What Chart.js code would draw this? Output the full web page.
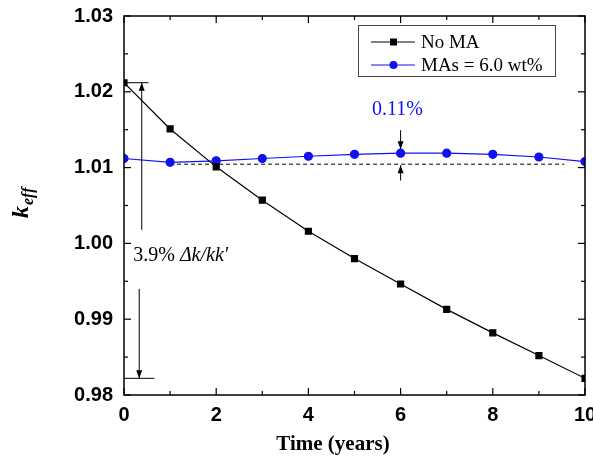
<!DOCTYPE html>
<html>
<head>
<meta charset="utf-8">
<script src="https://cdn.jsdelivr.net/npm/chart.js@4.4.1/dist/chart.umd.min.js"></script>
<style>
  html, body { margin: 0; padding: 0; background: #fff; }
  canvas { display: block; }
</style>
</head>
<body>
<canvas id="c" width="593" height="459"></canvas>
<script>
// k_eff over ten years of burnup, with and without minor actinides
const years = [0, 1, 2, 3, 4, 5, 6, 7, 8, 9, 10];
const keffNoMA = [1.0212, 1.0151, 1.0101, 1.0057, 1.0016, 0.9980, 0.99465, 0.9913, 0.9882, 0.9852, 0.9822];
const keffMA6  = [1.0112, 1.0107, 1.0109, 1.0112, 1.0115, 1.01175, 1.0119, 1.0119, 1.01175, 1.0114, 1.0108];
const xTickValues = [0, 2, 4, 6, 8, 10];
const yTickValues = [0.98, 0.99, 1.00, 1.01, 1.02, 1.03];
const seriesNames = ['No MA', 'MAs = 6.0 wt%'];

// reference level of the MA case and the swing annotations
const refLevel = 1.01045;
const refSpan = [1, 9.55];
const swingText = '3.9% ';
const swingUnit = "\u0394k/kk'";
const gainText = '0.11%';
const gainYear = 6;

const BLUE = '#1010f0';
const SERIF = '"Liberation Serif", "Times New Roman", serif';
const SANS = '"Liberation Sans", Arial, sans-serif';

const toXY = (xs, ys) => xs.map((v, i) => ({ x: v, y: ys[i] }));

const decor = {
  id: 'decor',
  afterDatasetsDraw(chart) {
    const { ctx, chartArea: a, scales: { x, y } } = chart;
    const X = v => x.getPixelForValue(v);
    const Y = v => y.getPixelForValue(v);
    const seg = (x1, y1, x2, y2) => { ctx.beginPath(); ctx.moveTo(x1, y1); ctx.lineTo(x2, y2); ctx.stroke(); };
    const arrow = (x1, y1, x2, y2) => {
      seg(x1, y1, x2, y2);
      const ang = Math.atan2(y2 - y1, x2 - x1), L = 8, W = 3;
      ctx.beginPath();
      ctx.moveTo(x2, y2);
      ctx.lineTo(x2 - L * Math.cos(ang) + W * Math.sin(ang), y2 - L * Math.sin(ang) - W * Math.cos(ang));
      ctx.lineTo(x2 - L * Math.cos(ang) - W * Math.sin(ang), y2 - L * Math.sin(ang) + W * Math.cos(ang));
      ctx.closePath();
      ctx.fill();
    };
    ctx.save();
    ctx.strokeStyle = '#000';
    ctx.fillStyle = '#000';

    // frame
    ctx.lineWidth = 1.5;
    ctx.strokeRect(a.left, a.top, a.right - a.left, a.bottom - a.top);

    // inward ticks on all four sides
    ctx.lineWidth = 1.2;
    for (let v = 0; v <= 10; v++) {
      const px = X(v), L = v % 2 === 0 ? 7 : 4;
      seg(px, a.bottom, px, a.bottom - L);
      seg(px, a.top, px, a.top + L);
    }
    for (let i = 0; i <= 10; i++) {
      const py = Y(0.98 + i * 0.005), L = i % 2 === 0 ? 7 : 4;
      seg(a.left, py, a.left + L, py);
      seg(a.right, py, a.right - L, py);
    }

    // reactivity swing of the no-MA case
    ctx.lineWidth = 1;
    arrow(X(0.385), Y(1.0018), X(0.385), Y(keffNoMA[0]));
    arrow(X(0.33), Y(0.9940), X(0.33), Y(keffNoMA[keffNoMA.length - 1]));
    ctx.textBaseline = 'alphabetic';
    ctx.textAlign = 'left';
    ctx.font = '20px ' + SERIF;
    const tx = X(0.2), ty = Y(0.99763);
    ctx.fillText(swingText, tx, ty);
    const w1 = ctx.measureText(swingText).width;
    ctx.font = 'italic 20px ' + SERIF;
    ctx.fillText(swingUnit, tx + w1, ty);

    // swing of the MA case
    const peak = Math.max(...keffMA6);
    arrow(X(gainYear), Y(1.01494), X(gainYear), Y(peak) - 4);
    arrow(X(gainYear), Y(1.0083), X(gainYear), Y(refLevel) + 1);
    ctx.fillStyle = BLUE;
    ctx.font = '20px ' + SERIF;
    ctx.textAlign = 'center';
    ctx.fillText(gainText, X(5.93), Y(1.01693));

    // legend
    ctx.fillStyle = '#000';
    ctx.strokeStyle = '#444';
    ctx.lineWidth = 1;
    ctx.strokeRect(358.5, 25.5, 197, 51);
    const rows = [
      { y: 42, color: '#000', shape: 'rect', name: seriesNames[0], base: 48 },
      { y: 65, color: BLUE, shape: 'circle', name: seriesNames[1], base: 71 }
    ];
    ctx.textAlign = 'left';
    ctx.font = '19px ' + SERIF;
    rows.forEach(r => {
      ctx.strokeStyle = r.color;
      ctx.fillStyle = r.color;
      ctx.lineWidth = 1.2;
      seg(371, r.y, 415, r.y);
      if (r.shape === 'rect') ctx.fillRect(390, r.y - 3.5, 7, 7);
      else { ctx.beginPath(); ctx.arc(393.5, r.y, 4, 0, Math.PI * 2); ctx.fill(); }
      ctx.fillStyle = '#000';
      ctx.fillText(r.name, 421, r.base);
    });

    // axis titles
    ctx.fillStyle = '#000';
    ctx.font = 'bold 21px ' + SERIF;
    ctx.textAlign = 'center';
    ctx.fillText('Time (years)', 333, 450);

    ctx.save();
    ctx.translate(28, 218);
    ctx.rotate(-Math.PI / 2);
    ctx.textAlign = 'left';
    ctx.font = 'bold italic 24px ' + SERIF;
    ctx.fillText('k', 0, 0);
    const kw = ctx.measureText('k').width;
    ctx.font = 'bold italic 16px ' + SERIF;
    ctx.fillText('eff', kw + 1, 5);
    ctx.restore();

    ctx.restore();
  }
};

new Chart(document.getElementById('c'), {
  type: 'line',
  data: {
    datasets: [
      {
        label: seriesNames[0],
        data: toXY(years, keffNoMA),
        borderColor: '#000', backgroundColor: '#000',
        borderWidth: 1.2, pointStyle: 'rect', pointRadius: 4.2, pointHoverRadius: 4.2,
        clip: 0
      },
      {
        label: seriesNames[1],
        data: toXY(years, keffMA6),
        borderColor: BLUE, backgroundColor: BLUE,
        borderWidth: 1.2, pointStyle: 'circle', pointRadius: 4, pointHoverRadius: 4,
        clip: 0
      },
      {
        label: 'ref',
        data: toXY(refSpan, [refLevel, refLevel]),
        borderColor: '#000', borderWidth: 1, borderDash: [4, 3], pointRadius: 0
      },
      {
        label: 'top',
        data: toXY([0, 0.53], [keffNoMA[0], keffNoMA[0]]),
        borderColor: '#000', borderWidth: 1, pointRadius: 0
      },
      {
        label: 'bottom',
        data: toXY([0, 0.66], [keffNoMA[10], keffNoMA[10]]),
        borderColor: '#000', borderWidth: 1, pointRadius: 0
      }
    ]
  },
  options: {
    responsive: false,
    animation: false,
    events: [],
    layout: { padding: { left: 0, right: 8, top: 16, bottom: 0 } },
    plugins: { legend: { display: false }, tooltip: { enabled: false } },
    scales: {
      x: {
        type: 'linear', min: 0, max: 10,
        grid: { display: false, drawTicks: false },
        border: { display: false },
        afterBuildTicks: s => { s.ticks = xTickValues.map(v => ({ value: v })); },
        ticks: {
          padding: 8, color: '#000', maxRotation: 0,
          font: { family: SANS, size: 20, weight: 'bold' },
          callback: v => String(v)
        },
        afterFit: s => { s.height = 64; s.paddingLeft = 0; s.paddingRight = 0; }
      },
      y: {
        type: 'linear', min: 0.98, max: 1.03,
        grid: { display: false, drawTicks: false },
        border: { display: false },
        afterBuildTicks: s => { s.ticks = yTickValues.map(v => ({ value: v })); },
        ticks: {
          padding: 11, color: '#000',
          font: { family: SANS, size: 20, weight: 'bold' },
          callback: v => v.toFixed(2)
        },
        afterFit: s => { s.width = 124; s.paddingTop = 0; s.paddingBottom = 0; }
      }
    }
  },
  plugins: [decor]
});
</script>
</body>
</html>
